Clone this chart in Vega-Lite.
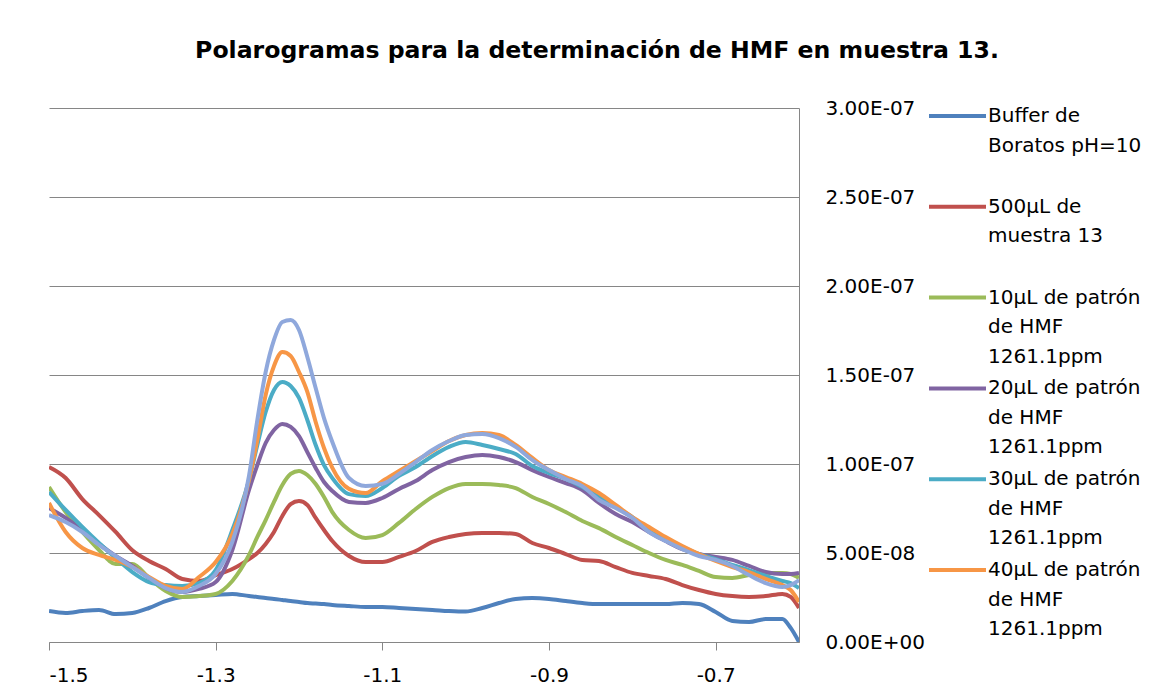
{
  "$schema": "https://vega.github.io/schema/vega-lite/v6.json",
  "width": 750,
  "height": 534,
  "autosize": {"type": "none"},
  "padding": {"left": 49, "top": 108, "right": 366, "bottom": 46},
  "background": "white",
  "title": {
    "text": "Polarogramas para la determinación de HMF en muestra 13.",
    "font": "DejaVu Sans",
    "fontSize": 23.6,
    "fontWeight": "bold",
    "color": "#000000",
    "anchor": "middle",
    "frame": "group",
    "dx": 173,
    "baseline": "alphabetic",
    "offset": 16
  },
  "data": {
    "values": [
      {"E": -1.50, "buffer": 17.4e-9, "m13": 98.3e-9, "p10": 87.1e-9, "p20": 75.3e-9, "p30": 84.3e-9, "p40": 78.1e-9, "p50": 71.3e-9},
      {"E": -1.48, "buffer": 16.3e-9, "m13": 92.1e-9, "p10": 73.0e-9, "p20": 69.7e-9, "p30": 74.2e-9, "p40": 61.8e-9, "p50": 67.4e-9},
      {"E": -1.46, "buffer": 17.4e-9, "m13": 80.3e-9, "p10": 61.8e-9, "p20": 62.9e-9, "p30": 64.6e-9, "p40": 52.8e-9, "p50": 61.8e-9},
      {"E": -1.44, "buffer": 18.0e-9, "m13": 71.3e-9, "p10": 51.7e-9, "p20": 55.1e-9, "p30": 55.6e-9, "p40": 48.9e-9, "p50": 54.5e-9},
      {"E": -1.42, "buffer": 15.7e-9, "m13": 61.8e-9, "p10": 43.8e-9, "p20": 48.3e-9, "p30": 47.2e-9, "p40": 46.1e-9, "p50": 48.3e-9},
      {"E": -1.40, "buffer": 16.3e-9, "m13": 51.5e-9, "p10": 43.8e-9, "p20": 42.7e-9, "p30": 39.3e-9, "p40": 42.1e-9, "p50": 42.1e-9},
      {"E": -1.38, "buffer": 19.1e-9, "m13": 45.5e-9, "p10": 36.0e-9, "p20": 36.0e-9, "p30": 33.7e-9, "p40": 36.5e-9, "p50": 36.0e-9},
      {"E": -1.36, "buffer": 23.0e-9, "m13": 41.0e-9, "p10": 28.7e-9, "p20": 30.3e-9, "p30": 32.0e-9, "p40": 31.5e-9, "p50": 30.3e-9},
      {"E": -1.34, "buffer": 25.3e-9, "m13": 35.4e-9, "p10": 25.3e-9, "p20": 28.1e-9, "p30": 31.5e-9, "p40": 29.8e-9, "p50": 28.1e-9},
      {"E": -1.32, "buffer": 25.8e-9, "m13": 34.3e-9, "p10": 25.8e-9, "p20": 29.8e-9, "p30": 33.1e-9, "p40": 36.5e-9, "p50": 31.5e-9},
      {"E": -1.30, "buffer": 26.4e-9, "m13": 37.6e-9, "p10": 27.0e-9, "p20": 33.7e-9, "p30": 40.4e-9, "p40": 44.9e-9, "p50": 38.2e-9},
      {"E": -1.28, "buffer": 27.0e-9, "m13": 41.0e-9, "p10": 34.3e-9, "p20": 51.7e-9, "p30": 62.9e-9, "p40": 60.7e-9, "p50": 56.2e-9},
      {"E": -1.26, "buffer": 25.8e-9, "m13": 46.6e-9, "p10": 48.9e-9, "p20": 85.4e-9, "p30": 91.0e-9, "p40": 91.0e-9, "p50": 93.3e-9},
      {"E": -1.25, "buffer": 25.3e-9, "m13": 50.0e-9, "p10": 59.0e-9, "p20": 99.4e-9, "p30": 110.7e-9, "p40": 113.5e-9, "p50": 124.7e-9},
      {"E": -1.24, "buffer": 24.7e-9, "m13": 55.1e-9, "p10": 68.5e-9, "p20": 111.8e-9, "p30": 129.2e-9, "p40": 138.8e-9, "p50": 151.7e-9},
      {"E": -1.23, "buffer": 24.2e-9, "m13": 61.8e-9, "p10": 78.7e-9, "p20": 119.1e-9, "p30": 141.6e-9, "p40": 155.1e-9, "p50": 169.7e-9},
      {"E": -1.22, "buffer": 23.6e-9, "m13": 70.8e-9, "p10": 88.2e-9, "p20": 122.5e-9, "p30": 146.1e-9, "p40": 162.9e-9, "p50": 179.8e-9},
      {"E": -1.21, "buffer": 23.0e-9, "m13": 77.5e-9, "p10": 94.4e-9, "p20": 120.8e-9, "p30": 143.8e-9, "p40": 160.7e-9, "p50": 180.9e-9},
      {"E": -1.20, "buffer": 22.5e-9, "m13": 79.2e-9, "p10": 96.1e-9, "p20": 115.7e-9, "p30": 137.1e-9, "p40": 151.7e-9, "p50": 175.3e-9},
      {"E": -1.19, "buffer": 21.9e-9, "m13": 77.0e-9, "p10": 93.8e-9, "p20": 106.7e-9, "p30": 124.7e-9, "p40": 140.5e-9, "p50": 160.1e-9},
      {"E": -1.18, "buffer": 21.6e-9, "m13": 69.7e-9, "p10": 88.8e-9, "p20": 97.8e-9, "p30": 110.7e-9, "p40": 123.6e-9, "p50": 142.7e-9},
      {"E": -1.17, "buffer": 21.3e-9, "m13": 62.9e-9, "p10": 81.5e-9, "p20": 89.9e-9, "p30": 99.4e-9, "p40": 109.0e-9, "p50": 125.8e-9},
      {"E": -1.16, "buffer": 20.8e-9, "m13": 56.7e-9, "p10": 73.0e-9, "p20": 84.8e-9, "p30": 92.1e-9, "p40": 97.8e-9, "p50": 112.4e-9},
      {"E": -1.14, "buffer": 20.2e-9, "m13": 48.3e-9, "p10": 62.9e-9, "p20": 78.7e-9, "p30": 83.1e-9, "p40": 86.0e-9, "p50": 92.1e-9},
      {"E": -1.12, "buffer": 19.7e-9, "m13": 44.9e-9, "p10": 58.4e-9, "p20": 78.1e-9, "p30": 82.0e-9, "p40": 83.7e-9, "p50": 87.6e-9},
      {"E": -1.10, "buffer": 19.7e-9, "m13": 44.9e-9, "p10": 60.1e-9, "p20": 80.9e-9, "p30": 86.5e-9, "p40": 90.4e-9, "p50": 88.8e-9},
      {"E": -1.08, "buffer": 19.1e-9, "m13": 47.8e-9, "p10": 66.9e-9, "p20": 86.0e-9, "p30": 93.3e-9, "p40": 96.1e-9, "p50": 94.4e-9},
      {"E": -1.06, "buffer": 18.5e-9, "m13": 51.1e-9, "p10": 74.7e-9, "p20": 90.4e-9, "p30": 98.3e-9, "p40": 101.7e-9, "p50": 101.1e-9},
      {"E": -1.04, "buffer": 18.0e-9, "m13": 56.2e-9, "p10": 81.5e-9, "p20": 96.6e-9, "p30": 104.5e-9, "p40": 107.3e-9, "p50": 107.9e-9},
      {"E": -1.02, "buffer": 17.4e-9, "m13": 59.0e-9, "p10": 86.5e-9, "p20": 101.1e-9, "p30": 109.6e-9, "p40": 112.9e-9, "p50": 112.9e-9},
      {"E": -1.00, "buffer": 17.1e-9, "m13": 60.7e-9, "p10": 88.8e-9, "p20": 103.9e-9, "p30": 112.4e-9, "p40": 116.3e-9, "p50": 116.3e-9},
      {"E": -0.98, "buffer": 19.1e-9, "m13": 61.2e-9, "p10": 88.8e-9, "p20": 105.1e-9, "p30": 110.7e-9, "p40": 117.4e-9, "p50": 116.9e-9},
      {"E": -0.96, "buffer": 21.9e-9, "m13": 61.2e-9, "p10": 88.2e-9, "p20": 103.9e-9, "p30": 108.4e-9, "p40": 116.3e-9, "p50": 114.6e-9},
      {"E": -0.94, "buffer": 24.2e-9, "m13": 60.7e-9, "p10": 86.5e-9, "p20": 101.1e-9, "p30": 105.6e-9, "p40": 110.7e-9, "p50": 109.6e-9},
      {"E": -0.92, "buffer": 24.7e-9, "m13": 55.6e-9, "p10": 81.5e-9, "p20": 96.6e-9, "p30": 98.9e-9, "p40": 103.4e-9, "p50": 102.2e-9},
      {"E": -0.90, "buffer": 24.2e-9, "m13": 52.8e-9, "p10": 77.5e-9, "p20": 92.7e-9, "p30": 94.9e-9, "p40": 96.6e-9, "p50": 96.6e-9},
      {"E": -0.88, "buffer": 23.0e-9, "m13": 49.4e-9, "p10": 73.0e-9, "p20": 89.3e-9, "p30": 91.6e-9, "p40": 92.7e-9, "p50": 91.6e-9},
      {"E": -0.86, "buffer": 21.9e-9, "m13": 46.1e-9, "p10": 68.0e-9, "p20": 85.4e-9, "p30": 87.1e-9, "p40": 88.8e-9, "p50": 87.6e-9},
      {"E": -0.84, "buffer": 21.3e-9, "m13": 45.5e-9, "p10": 64.0e-9, "p20": 78.1e-9, "p30": 81.5e-9, "p40": 83.7e-9, "p50": 79.8e-9},
      {"E": -0.82, "buffer": 21.3e-9, "m13": 42.1e-9, "p10": 59.0e-9, "p20": 71.9e-9, "p30": 75.8e-9, "p40": 77.0e-9, "p50": 75.3e-9},
      {"E": -0.80, "buffer": 21.3e-9, "m13": 38.8e-9, "p10": 54.5e-9, "p20": 67.4e-9, "p30": 70.2e-9, "p40": 70.2e-9, "p50": 69.7e-9},
      {"E": -0.78, "buffer": 21.3e-9, "m13": 37.1e-9, "p10": 50.0e-9, "p20": 61.8e-9, "p30": 62.4e-9, "p40": 64.6e-9, "p50": 61.8e-9},
      {"E": -0.76, "buffer": 21.3e-9, "m13": 35.4e-9, "p10": 46.1e-9, "p20": 56.7e-9, "p30": 57.3e-9, "p40": 59.0e-9, "p50": 56.7e-9},
      {"E": -0.74, "buffer": 21.9e-9, "m13": 32.0e-9, "p10": 43.3e-9, "p20": 52.2e-9, "p30": 53.4e-9, "p40": 53.9e-9, "p50": 52.2e-9},
      {"E": -0.72, "buffer": 21.3e-9, "m13": 29.2e-9, "p10": 39.9e-9, "p20": 49.4e-9, "p30": 49.4e-9, "p40": 49.4e-9, "p50": 48.3e-9},
      {"E": -0.70, "buffer": 16.9e-9, "m13": 27.0e-9, "p10": 36.5e-9, "p20": 47.8e-9, "p30": 46.6e-9, "p40": 45.5e-9, "p50": 46.1e-9},
      {"E": -0.68, "buffer": 11.8e-9, "m13": 25.8e-9, "p10": 36.0e-9, "p20": 46.1e-9, "p30": 43.3e-9, "p40": 42.1e-9, "p50": 42.7e-9},
      {"E": -0.66, "buffer": 11.2e-9, "m13": 25.3e-9, "p10": 37.6e-9, "p20": 42.7e-9, "p30": 40.4e-9, "p40": 39.3e-9, "p50": 37.6e-9},
      {"E": -0.64, "buffer": 12.9e-9, "m13": 25.8e-9, "p10": 38.8e-9, "p20": 39.3e-9, "p30": 37.1e-9, "p40": 35.4e-9, "p50": 33.1e-9},
      {"E": -0.62, "buffer": 12.9e-9, "m13": 27.0e-9, "p10": 38.8e-9, "p20": 38.2e-9, "p30": 34.3e-9, "p40": 32.0e-9, "p50": 30.9e-9},
      {"E": -0.61, "buffer": 7.9e-9, "m13": 25.3e-9, "p10": 38.2e-9, "p20": 38.2e-9, "p30": 33.1e-9, "p40": 29.2e-9, "p50": 32.0e-9},
      {"E": -0.60, "buffer": 0.0, "m13": 19.1e-9, "p10": 36.0e-9, "p20": 38.8e-9, "p30": 30.3e-9, "p40": 22.5e-9, "p50": 34.8e-9}
    ]
  },
  "transform": [
    {"fold": ["buffer", "m13", "p10", "p20", "p30", "p40", "p50"], "as": ["serie", "I"]}
  ],
  "mark": {"type": "line", "interpolate": "monotone", "strokeWidth": 4, "clip": true},
  "encoding": {
    "x": {
      "field": "E",
      "type": "quantitative",
      "scale": {"domain": [-1.5, -0.6], "nice": false, "zero": false},
      "axis": {
        "title": null,
        "values": [-1.5, -1.3, -1.1, -0.9, -0.7],
        "labelExpr": "toString(datum.value)",
        "grid": false,
        "domainColor": "#868686",
        "tickColor": "#868686",
        "tickSize": 8,
        "labelPadding": 15,
        "labelFont": "DejaVu Sans",
        "labelFontSize": 20,
        "labelColor": "#000000"
      }
    },
    "y": {
      "field": "I",
      "type": "quantitative",
      "scale": {"domain": [0, 3e-7], "nice": false},
      "axis": {
        "orient": "right",
        "title": null,
        "values": [0, 5e-8, 1e-7, 1.5e-7, 2e-7, 2.5e-7, 3e-7],
        "labelExpr": "datum.value == 0 ? '0.00E+00' : format(datum.value / pow(10, floor(log(datum.value) / LN10 + 1e-9)), '.2f') + 'E-' + (floor(log(datum.value) / LN10 + 1e-9) > -10 ? '0' : '') + toString(-floor(log(datum.value) / LN10 + 1e-9))",
        "grid": true,
        "gridColor": "#868686",
        "gridWidth": 1,
        "domainColor": "#868686",
        "ticks": false,
        "labelPadding": 26,
        "labelAlign": "left",
        "labelBaseline": "middle",
        "labelFont": "DejaVu Sans",
        "labelFontSize": 20,
        "labelColor": "#000000"
      }
    },
    "color": {
      "field": "serie",
      "type": "nominal",
      "sort": ["buffer", "m13", "p10", "p20", "p30", "p40", "p50"],
      "scale": {
        "domain": ["buffer", "m13", "p10", "p20", "p30", "p40", "p50"],
        "range": ["#4F81BD", "#C0504D", "#9BBB59", "#8064A2", "#4BACC6", "#F79646", "#8FA8DC"]
      },
      "legend": {
        "orient": "none",
        "legendX": 878,
        "legendY": -4,
        "title": null,
        "values": ["buffer", "m13", "p10", "p20", "p30", "p40"],
        "symbolType": "stroke",
        "symbolSize": 3249,
        "symbolStrokeWidth": 4,
        "labelFont": "DejaVu Sans",
        "labelFontSize": 20,
        "labelColor": "#000000",
        "labelBaseline": "top",
        "labelOffset": 0,
        "labelLimit": 400,
        "gridAlign": "all",
        "rowPadding": 9.8,
        "padding": 0,
        "labelExpr": "datum.value == 'buffer' ? ['Buffer de', 'Boratos pH=10'] : datum.value == 'm13' ? ['500µL de', 'muestra 13'] : datum.value == 'p10' ? ['10µL de patrón', 'de HMF', '1261.1ppm'] : datum.value == 'p20' ? ['20µL de patrón', 'de HMF', '1261.1ppm'] : datum.value == 'p30' ? ['30µL de patrón', 'de HMF', '1261.1ppm'] : datum.value == 'p40' ? ['40µL de patrón', 'de HMF', '1261.1ppm'] : ['50µL de patrón', 'de HMF', '1261.1ppm']",
        "encoding": {
          "symbols": {
            "y": {"value": 12}
          },
          "labels": {
            "y": {"value": 12},
            "dy": {"value": -10},
            "lineHeight": {"value": 29.5}
          }
        }
      }
    }
  },
  "config": {
    "view": {"stroke": null},
    "style": {"guide-label": {"lineHeight": 29.5}}
  }
}
